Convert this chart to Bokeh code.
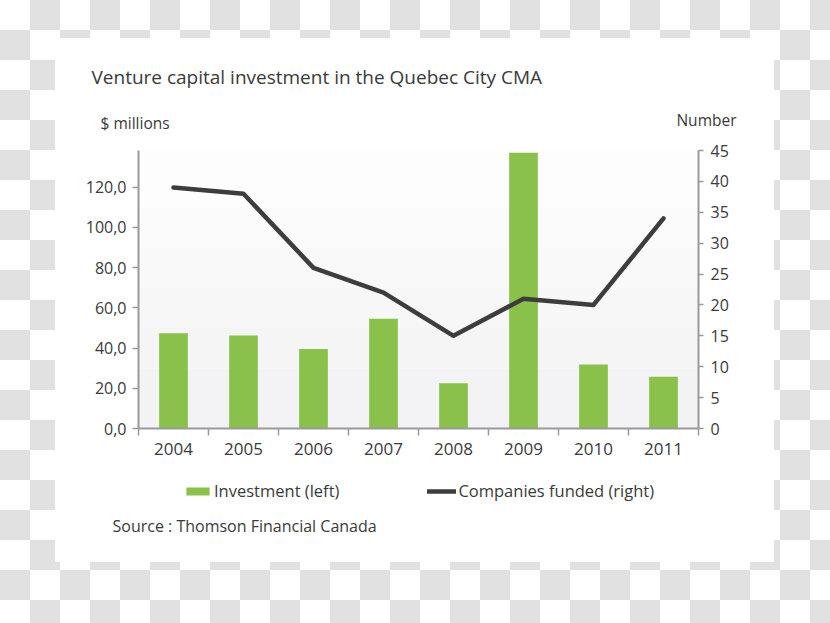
from bokeh.plotting import figure
from bokeh.models import (Range1d, LinearAxis, FixedTicker, Label, Legend, LegendItem,
                          BoxAnnotation, ColumnDataSource)
from bokeh.layouts import column
from bokeh.embed import file_html
from bokeh.resources import INLINE

# ---- data ----
years = [2004, 2005, 2006, 2007, 2008, 2009, 2010, 2011]
investment = [47.4, 46.3, 39.5, 54.6, 22.5, 137.2, 31.8, 25.7]   # $ millions (left)
companies = [39, 38, 26, 22, 15, 21, 20, 34]                      # number (right)
left_ticks = [0, 20, 40, 60, 80, 100, 120]
left_labels = ["0,0", "20,0", "40,0", "60,0", "80,0", "100,0", "120,0"]
right_ticks = [0, 5, 10, 15, 20, 25, 30, 35, 40, 45]
title_text = "Venture capital investment in the Quebec City CMA"
left_unit = "$ millions"
right_unit = "Number"
series_names = ["Investment (left)", "Companies funded (right)"]
source_text = "Source : Thomson Financial Canada"

FONT = "Open Sans"
TXT = "#3a3a3a"
GREEN = "#89c14b"
DARK = "#3d3d3d"
AXIS = "#9a9a9a"
CARD_W = 719


def blank(height):
    f = figure(width=CARD_W, height=height, output_backend="svg", toolbar_location=None,
               x_range=Range1d(0, CARD_W), y_range=Range1d(0, height),
               x_axis_location=None, y_axis_location=None,
               min_border=0, min_border_left=0, min_border_right=0,
               min_border_top=0, min_border_bottom=0)
    f.frame_align = False
    f.outline_line_color = None
    f.border_fill_color = "white"
    f.background_fill_color = "white"
    f.grid.visible = False
    return f


def lab(f, text, x, y, size, align="left"):
    f.add_layout(Label(x=x, y=y, text=text, text_font=FONT, text_font_size=size,
                       text_color=TXT, text_align=align, text_baseline="middle"))


src = ColumnDataSource(dict(year=years, inv=investment, comp=companies))

# ---- header ----
head = blank(100)
lab(head, title_text, 36, 62, "19px")
lab(head, left_unit, 45, 16, "15.5px")
lab(head, right_unit, 681, 19, "15.5px", align="right")

# ---- main chart ----
p = figure(width=CARD_W, height=332, output_backend="svg", toolbar_location=None,
           x_range=Range1d(years[0] - 0.5, years[-1] + 0.5),
           y_range=Range1d(0, 138.3),
           min_border_left=83, min_border_right=76, min_border_top=12, min_border_bottom=42)
p.frame_align = False
p.border_fill_color = "white"
p.background_fill_color = "white"
p.outline_line_color = None
p.extra_y_ranges = {"right": Range1d(0, 45)}

shades = ["#fdfdfe", "#fbfbfc", "#f9f9fa", "#f7f7f8", "#f5f5f6", "#f3f3f5"]
band_edges = [138.3, 110, 90, 70, 50, 30, 0]
for i, c in enumerate(shades):
    p.add_layout(BoxAnnotation(bottom=band_edges[i + 1], top=band_edges[i], fill_color=c,
                               fill_alpha=1, line_color=None, level="underlay"))

bars = p.vbar(x="year", top="inv", width=0.41, source=src, fill_color=GREEN, line_color=None)
line = p.line(x="year", y="comp", source=src, y_range_name="right", line_color=DARK,
              line_width=4.5, line_cap="round", line_join="round")

p.yaxis.ticker = FixedTicker(ticks=left_ticks)
p.yaxis.major_label_overrides = dict(zip(left_ticks, left_labels))
p.xaxis.ticker = FixedTicker(ticks=years, minor_ticks=[y - 0.5 for y in years] + [years[-1] + 0.5])

ra = LinearAxis(y_range_name="right", ticker=FixedTicker(ticks=right_ticks))
p.add_layout(ra, "right")

for ax in [p.xaxis[0], p.yaxis[0], ra]:
    ax.axis_line_color = AXIS
    ax.axis_line_width = 2
    ax.major_tick_line_color = AXIS
    ax.minor_tick_line_color = AXIS
    ax.major_tick_line_width = 1.5
    ax.minor_tick_line_width = 1.5
    ax.major_label_text_font = FONT
    ax.major_label_text_font_size = "16px"
    ax.major_label_text_color = TXT
    ax.minor_tick_in = 0
    ax.minor_tick_out = 0
    ax.major_tick_in = 0

p.xaxis[0].major_label_text_font_size = "17px"
p.yaxis[0].major_tick_out = 6
p.yaxis[0].major_label_standoff = 6
ra.major_tick_out = 5
ra.major_label_standoff = 7
p.xaxis[0].major_tick_out = 0
p.xaxis[0].minor_tick_out = 7
p.xaxis[0].major_label_standoff = 7

p.xgrid.visible = False
p.ygrid.ticker = FixedTicker(ticks=left_ticks)
p.ygrid.grid_line_color = "#e6e6e6"
p.ygrid.grid_line_width = 1

# ---- footer: legend + source ----
# the footer's renderers use the same data; they fall outside its pixel range and only feed the legend
foot = blank(92)
lg_bar = foot.vbar(x="year", top="inv", width=0.41, source=src, fill_color=GREEN, line_color=None)
lg_line = foot.line(x="year", y="comp", source=src, line_color=DARK, line_width=4.5, line_cap="round")
legend = Legend(items=[LegendItem(label=series_names[0], renderers=[lg_bar]),
                       LegendItem(label=series_names[1], renderers=[lg_line])],
                orientation="horizontal", location=(128, 60),
                glyph_width=29, glyph_height=10, label_standoff=2, spacing=88,
                padding=0, margin=0, border_line_color=None, background_fill_alpha=0,
                label_text_font=FONT, label_text_font_size="16.5px", label_text_color=TXT)
foot.add_layout(legend, "center")
lab(foot, source_text, 57, 37, "16px")

card = column(head, p, foot, spacing=0, styles={"background-color": "white"})
card.margin = (38, 0, 0, 55)

page = column(card, width=830, height=623,
              styles={"background-image": "repeating-conic-gradient(#e1e1e1 0 25%, #ffffff 0 50%)",
                      "background-size": "60px 60px",
                      "background-position": "0 0"})

open("out.html", "w").write(file_html(page, INLINE))
